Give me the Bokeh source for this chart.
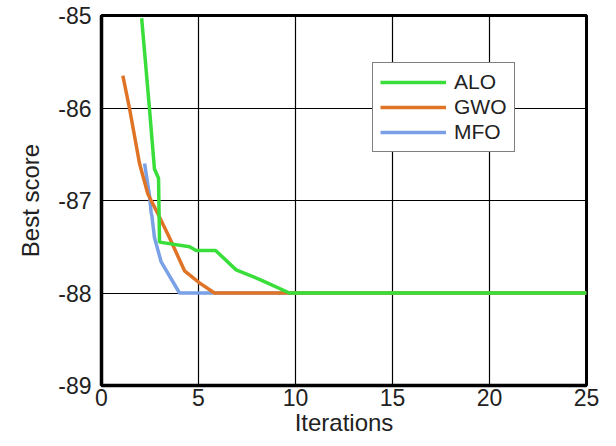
from bokeh.plotting import figure
from bokeh.models import Range1d, FixedTicker, Legend, LegendItem, PrintfTickFormatter
from bokeh.embed import file_html
from bokeh.resources import INLINE

alo_x = [2.07, 2.47, 2.73, 2.94, 2.99, 4.54, 4.88, 5.88, 6.94, 8.23, 9.69, 25]
alo_y = [-85.03, -86.0, -86.66, -86.76, -87.45, -87.5, -87.54, -87.54, -87.75, -87.86, -88.0, -88.0]
gwo_x = [1.1, 1.44, 1.96, 2.39, 2.9, 3.5, 4.28, 5.05, 5.82, 25]
gwo_y = [-85.65, -86.0, -86.6, -86.93, -87.14, -87.4, -87.76, -87.89, -88.0, -88.0]
mfo_x = [2.22, 2.47, 2.56, 2.6, 2.73, 3.07, 4.02, 25]
mfo_y = [-86.6, -86.94, -87.13, -87.17, -87.4, -87.66, -88.0, -88.0]
x_ticks = [0, 5, 10, 15, 20, 25]
y_ticks = [-89, -88, -87, -86, -85]

FONT = "Liberation Sans"

p = figure(width=608, height=438, output_backend="svg", toolbar_location=None,
           x_range=Range1d(0, 25), y_range=Range1d(-89, -85),
           min_border_left=101, min_border_right=22, min_border_top=15, min_border_bottom=53)
p.background_fill_color = "white"
p.border_fill_color = "white"
p.outline_line_color = "black"
p.outline_line_width = 3

p.xaxis.ticker = FixedTicker(ticks=x_ticks)
p.yaxis.ticker = FixedTicker(ticks=y_ticks)
p.xaxis.formatter = PrintfTickFormatter(format="%d")
p.yaxis.formatter = PrintfTickFormatter(format="%d")
for ax in (p.xaxis[0], p.yaxis[0]):
    ax.axis_line_color = "black"
    ax.axis_line_width = 3.5
    ax.major_tick_line_color = None
    ax.minor_tick_line_color = None
    ax.major_tick_out = 0
    ax.major_tick_in = 0
    ax.minor_tick_out = 0
    ax.minor_tick_in = 0
    ax.major_label_text_font = FONT
    ax.major_label_text_font_size = "23px"
    ax.major_label_text_color = "#222222"
    ax.axis_label_text_font = FONT
    ax.axis_label_text_font_size = "24px"
    ax.axis_label_text_font_style = "normal"
    ax.axis_label_text_color = "#222222"
p.xaxis.axis_label = "Iterations"
p.yaxis.axis_label = "Best score"
p.xaxis.major_label_standoff = 3
p.xaxis.axis_label_standoff = 0
p.yaxis.major_label_standoff = 10
p.yaxis.axis_label_standoff = 11

p.xgrid.grid_line_color = "black"
p.ygrid.grid_line_color = "black"
p.xgrid.grid_line_width = 1.2
p.ygrid.grid_line_width = 1.2
p.xgrid.grid_line_alpha = 1
p.ygrid.grid_line_alpha = 1

r_mfo = p.line(mfo_x, mfo_y, line_color="#7aa0e6", line_width=3.5)
r_gwo = p.line(gwo_x, gwo_y, line_color="#e07426", line_width=3.5)
r_alo = p.line(alo_x, alo_y, line_color="#3ade3a", line_width=3.5)

legend = Legend(items=[LegendItem(label="ALO", renderers=[r_alo]),
                       LegendItem(label="GWO", renderers=[r_gwo]),
                       LegendItem(label="MFO", renderers=[r_mfo])],
                location=(271, 233))
legend.border_line_color = "black"
legend.border_line_width = 1.5
legend.background_fill_color = "white"
legend.background_fill_alpha = 1
legend.label_text_font = FONT
legend.label_text_font_size = "21px"
legend.label_text_color = "#222222"
legend.glyph_width = 66
legend.glyph_height = 22
legend.label_height = 22
legend.spacing = 1
legend.padding = 7
legend.margin = 0
legend.label_standoff = 8
p.add_layout(legend, "center")

open("out.html", "w").write(file_html(p, INLINE))
